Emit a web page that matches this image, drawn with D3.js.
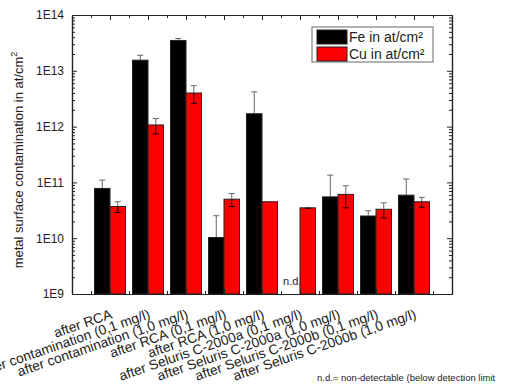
<!DOCTYPE html>
<html>
<head>
<meta charset="utf-8">
<script src="https://cdn.jsdelivr.net/npm/d3@7"></script>
<style>
body { margin: 0; background: #fff; }
text { font-family: Arial, "Liberation Sans", sans-serif; }
</style>
</head>
<body>
<svg id="chart" width="506" height="385"></svg>
<script>
var categories = [
    "after RCA",
    "after contamination (0,1 mg/l)",
    "after contamination (1,0 mg/l)",
    "after RCA (0,1 mg/l)",
    "after RCA (1,0 mg/l)",
    "after Seluris C-2000a (0,1 mg/l)",
    "after Seluris C-2000a (1,0 mg/l)",
    "after Seluris C-2000b (0,1 mg/l)",
    "after Seluris C-2000b (1,0 mg/l)"
];
// null = n.d.
var fe = [7.8e10, 1.55e13, 3.5e13, 1.03e10, 1.7e12, null, 5.5e10, 2.5e10, 5.9e10];
var feErr = [3.2e10, 3.5e12, 3e12, 1.5e10, 2.5e12, null, 8e10, 6e9, 5.6e10];
var cu = [3.7e10, 1.07e12, 4e12, 5.0e10, 4.5e10, 3.5e10, 6.1e10, 3.3e10, 4.5e10];
var cuErr = [8e9, 3.3e11, 1.4e12, 1.3e10, 0, 5e8, 2.6e10, 1e10, 9e9];
var yTicks = [1e9, 1e10, 1e11, 1e12, 1e13, 1e14];

var pLeft = 72, pRight = 452, pTop = 15, pBottom = 294;
var svg = d3.select("#chart");

var x = d3.scaleLinear().domain([0, 10]).range([pLeft, pRight]);
var y = d3.scaleLog().domain([1e9, 1e14]).range([pBottom, pTop]);
var barW = 15.5;

var minors = [];
for (var e = 9; e < 14; e++) {
    for (var m = 2; m < 10; m++) minors.push(m * Math.pow(10, e));
}
var fmt = d => "1E" + Math.round(Math.log10(d));

// bars
var series = [
    {vals: fe, errs: feErr, color: "#000000", off: -1},
    {vals: cu, errs: cuErr, color: "#ff0000", off: 0}
];
series.forEach(function(s) {
    var g = svg.append("g");
    g.selectAll("rect")
        .data(s.vals.map((v, i) => ({v: v, i: i})).filter(d => d.v != null))
        .enter()
        .append("rect")
        .attr("x", d => x(d.i + 1) + s.off * barW)
        .attr("y", d => y(d.v))
        .attr("width", barW)
        .attr("height", d => pBottom - y(d.v))
        .attr("fill", s.color)
        .attr("stroke", "#222")
        .attr("stroke-width", 1);

    var eb = g.selectAll("g.err")
        .data(s.vals.map((v, i) => ({v: v, e: s.errs[i], i: i})).filter(d => d.v != null && d.e))
        .enter()
        .append("g")
        .attr("stroke", "#666")
        .attr("stroke-width", 1);
    var cx = d => x(d.i + 1) + s.off * barW + barW / 2;
    var lo = d => y(Math.max(d.v - d.e, 1e9));
    var hi = d => y(d.v + d.e);
    // lower half drawn in black, so it hides on the black bars
    eb.append("line").attr("x1", cx).attr("x2", cx).attr("y1", d => y(d.v)).attr("y2", hi);
    eb.append("line").attr("x1", cx).attr("x2", cx).attr("y1", lo).attr("y2", d => y(d.v))
        .attr("stroke", "#000");
    eb.append("line").attr("x1", d => cx(d) - 3).attr("x2", d => cx(d) + 3).attr("y1", hi).attr("y2", hi);
    eb.append("line").attr("x1", d => cx(d) - 3).attr("x2", d => cx(d) + 3).attr("y1", lo).attr("y2", lo)
        .attr("stroke", "#000");
});

// n.d.
svg.append("text")
    .attr("x", x(6) - barW / 2)
    .attr("y", pBottom - 9)
    .attr("text-anchor", "middle")
    .attr("font-size", 11)
    .attr("fill", "#222")
    .text("n.d.");

// axes
svg.append("g").attr("transform", `translate(${pLeft},0)`)
    .call(d3.axisLeft(y).tickValues(yTicks).tickFormat(fmt).tickSizeInner(-5).tickSizeOuter(0).tickPadding(8));
svg.append("g").attr("transform", `translate(${pLeft},0)`)
    .call(d3.axisLeft(y).tickValues(minors).tickFormat("").tickSizeInner(-3).tickSizeOuter(0));
svg.append("g").attr("transform", `translate(${pRight},0)`)
    .call(d3.axisRight(y).tickValues(yTicks).tickFormat("").tickSizeInner(-5).tickSizeOuter(0));
svg.append("g").attr("transform", `translate(${pRight},0)`)
    .call(d3.axisRight(y).tickValues(minors).tickFormat("").tickSizeInner(-3).tickSizeOuter(0));

var xMajor = d3.range(1, 10);
var xMinor = d3.range(0.5, 10, 1);
svg.append("g").attr("transform", `translate(0,${pBottom})`)
    .call(d3.axisBottom(x).tickValues(xMajor).tickFormat("").tickSizeInner(-5).tickSizeOuter(0));
svg.append("g").attr("transform", `translate(0,${pBottom})`)
    .call(d3.axisBottom(x).tickValues(xMinor).tickFormat("").tickSizeInner(-3).tickSizeOuter(0));
svg.append("g").attr("transform", `translate(0,${pTop})`)
    .call(d3.axisTop(x).tickValues(xMajor).tickFormat("").tickSizeInner(-5).tickSizeOuter(0));
svg.append("g").attr("transform", `translate(0,${pTop})`)
    .call(d3.axisTop(x).tickValues(xMinor).tickFormat("").tickSizeInner(-3).tickSizeOuter(0));

svg.selectAll(".domain").attr("stroke", "#222").attr("stroke-width", 1.2);
svg.selectAll(".tick line").attr("stroke", "#222");
svg.selectAll(".tick text").attr("font-size", 12).attr("fill", "#222")
    .style("font-family", "Arial, 'Liberation Sans', sans-serif");

// category labels
svg.append("g").selectAll("text")
    .data(categories)
    .enter()
    .append("text")
    .attr("transform", (d, i) => `translate(${x(i + 1) + 3},${pBottom + 24}) rotate(-19)`)
    .attr("text-anchor", "end")
    .attr("font-size", 13.8)
    .attr("fill", "#222")
    .text(d => d);

// y title
var yt = svg.append("text")
    .attr("transform", "translate(23,160) rotate(-90)")
    .attr("text-anchor", "middle")
    .attr("font-size", 13)
    .attr("fill", "#222");
yt.append("tspan").text("metal surface contamination in at/cm");
yt.append("tspan").attr("dy", -6).attr("font-size", 9).text("2");

// legend
var lg = svg.append("g").attr("transform", "translate(312,27)");
lg.append("rect").attr("width", 121).attr("height", 35)
    .attr("fill", "#fff").attr("stroke", "#666");
var legItems = [["Fe in at/cm²", "#000000"], ["Cu in at/cm²", "#ff0000"]];
legItems.forEach(function(d, i) {
    lg.append("rect").attr("x", 5).attr("y", 3 + i * 17).attr("width", 30).attr("height", 14)
        .attr("fill", d[1]).attr("stroke", "#222");
    lg.append("text").attr("x", 37).attr("y", 15 + i * 17)
        .attr("font-size", 14).attr("fill", "#222").text(d[0]);
});

// footnote
svg.append("text")
    .attr("x", 317).attr("y", 381)
    .attr("font-size", 9.5)
    .attr("fill", "#222")
    .text("n.d.= non-detectable (below detection limit");
</script>
</body>
</html>
